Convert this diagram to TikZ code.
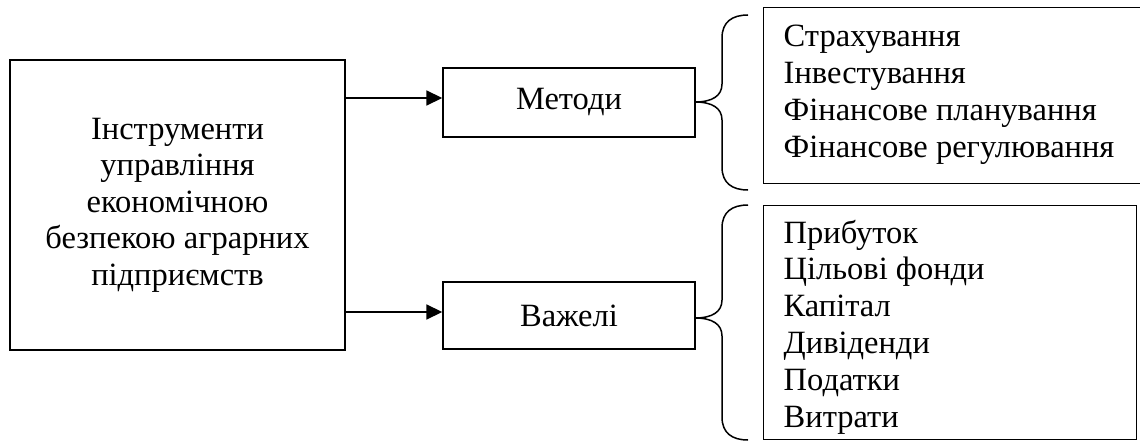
\documentclass[tikz,border=0pt]{standalone}
\usepackage{fontspec}
\setmainfont{Liberation Serif}
\usetikzlibrary{arrows.meta}
\begin{document}
\begin{tikzpicture}[x=1pt,y=-1pt,line width=1.4pt,
  box/.style={draw, inner sep=0pt, font=\fontsize{32.5}{36.5}\selectfont},
  txt/.style={inner sep=0pt, anchor=base west, font=\fontsize{32.5}{36.5}\selectfont},
  arr/.style={line width=1.7pt,-{Triangle[length=16pt,width=15pt]}},
  brace/.style={line width=1.5pt}]
\useasboundingbox (0,0) rectangle (1140,441);
\node[box, minimum width=335pt, minimum height=290pt, align=center] (main) at (177.5,205)
  {Інструменти\\управління\\економічною\\безпекою аграрних\\підприємств};
\node[box, minimum width=252pt, minimum height=69pt] (met) at (569,102.5) {Методи};
\node[box, minimum width=252pt, minimum height=67pt] (vaz) at (569,315.5) {Важелі};
\node[box, minimum width=385pt, minimum height=176pt, anchor=north west] (mbox) at (763,7) {};
\node[box, minimum width=373pt, minimum height=234pt, anchor=north west] (vbox) at (763,205) {};
\foreach \t [count=\i] in {Страхування,Інвестування,Фінансове планування,Фінансове регулювання}
  \node[txt] (m\i) at (783,{47+36.7*(\i-1)}) {\t};
\foreach \t [count=\i] in {Прибуток,Цільові фонди,Капітал,Дивіденди,Податки,Витрати}
  \node[txt] (v\i) at (783,{243+36.8*(\i-1)}) {\t};
\coordinate (ya) at (0,98);
\coordinate (yb) at (0,312);
\draw[arr] (main.east |- ya) -- (met.west |- ya);
\draw[arr] (main.east |- yb) -- (vaz.west |- yb);
\coordinate (mtip) at (695,102);
\coordinate (vtip) at (695,318);
\draw[brace] (mtip) .. controls (712,102) and (722,96) .. (722,84) -- (722,38)
  .. controls (722,22) and (732,15) .. (748,15);
\draw[brace] (mtip) .. controls (712,102) and (722,108) .. (722,120) -- (722,167)
  .. controls (722,183) and (732,190) .. (748,190);
\draw[brace] (vtip) .. controls (712,318) and (722,312) .. (722,300) -- (722,228)
  .. controls (722,212) and (732,205) .. (748,205);
\draw[brace] (vtip) .. controls (712,318) and (722,324) .. (722,336) -- (722,417)
  .. controls (722,433) and (732,440) .. (748,440);
\end{tikzpicture}
\end{document}
